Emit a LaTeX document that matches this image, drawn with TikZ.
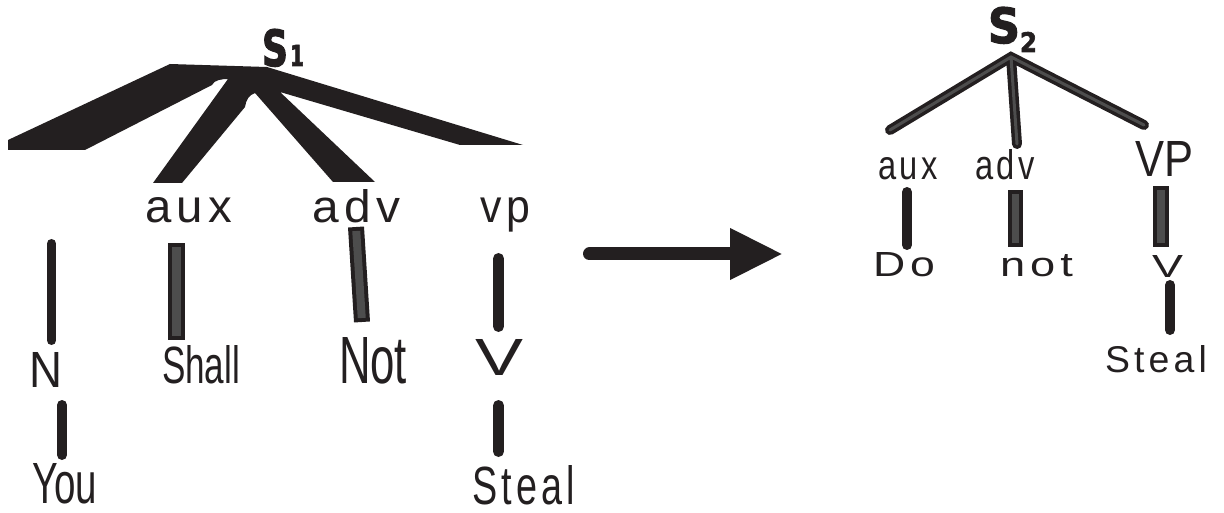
\documentclass[tikz,border=0pt]{standalone}
\usepackage{fontspec}
\usepackage{graphicx}
\usetikzlibrary{arrows.meta}
\newfontfamily\labf[FakeStretch=0.8]{Liberation Sans}
\newfontfamily\labsp[FakeStretch=0.8,LetterSpace=9]{Liberation Sans}
\newfontfamily\sbold[FakeBold=2.5]{DejaVu Sans Bold}
\definecolor{ink}{HTML}{231F20}
\definecolor{barg}{HTML}{4D4D4D}
% fit text #3 into width #1 and height #2 (pt)
\newcommand{\fitbox}[3]{\resizebox{#1pt}{#2pt}{#3}}
\begin{document}
\begin{tikzpicture}[x=1pt,y=-1pt,
  lbl/.style={anchor=base west,inner sep=0pt,outer sep=0pt,text=ink},
  blackbar/.style={draw=ink,line width=#1,line cap=round},
  graybar/.style={draw=ink,line width=4pt,double=barg,double distance=#1,line cap=rect},
  branch/.style={draw=ink,line width=3.5pt,double=barg,double distance=3pt,line cap=round,line join=miter},
  bigarrow/.style={draw=ink,line width=13pt,line cap=round,-{Triangle[length=53pt,width=48pt]}}
]
\useasboundingbox (0,0) rectangle (1224,513);

% ---------- left tree ----------
\node[lbl] (s1) at (262,66) {\fitbox{26}{37}{\sbold S}};
\node[lbl] (s1sub) at (290,66) {\fitbox{14}{21}{\sbold 1}};
\coordinate (apexL) at (250,75);
\fill[ink] (170,64) -- (267,67) -- (523,145) -- (460,145) -- (280,92) -- (375,182) -- (333,182) -- (255,93)
  .. controls (249,95) and (246,100) .. (245,107) -- (182,183) -- (153,183) -- (228,79)
  .. controls (222,79) and (214,80) .. (212,85) -- (85,150) -- (8,150) -- (8,140) -- cycle;

\node[lbl] (aux) at (145,223) {\fitbox{87}{25}{\labsp aux}};
\node[lbl] (adv) at (312,223) {\fitbox{88}{33}{\labsp adv}};
\node[lbl] (vp)  at (480,223) {\fitbox{50}{25}{\labsp vp}};

\node[lbl] (N)     at (30,387)  {\fitbox{33}{35}{\labf N}};
\node[lbl] (You)   at (32,503)  {\fitbox{65}{40}{\labf You}};
\node[lbl] (Shall) at (162,383) {\fitbox{78}{38}{\labf Shall}};
\node[lbl] (Not)   at (339,383) {\fitbox{68}{46}{\labf Not}};
\node[lbl] (V)     at (475,375) {\fitbox{48}{36}{\labf V}};
\node[lbl] (Steal) at (472,504) {\fitbox{103}{39}{\labsp Steal}};

\coordinate (nT) at (51.5,243.5);  \coordinate (nB) at (51.5,340.5);
\coordinate (yT) at (62,405);      \coordinate (yB) at (62,455);
\coordinate (shT) at (176.5,251.5); \coordinate (shB) at (176.5,331.5);
\coordinate (noT) at (356.5,235);  \coordinate (noB) at (361.5,314);
\coordinate (vpT) at (498.5,258.5); \coordinate (vpB) at (498.5,326.5);
\coordinate (vT) at (498.5,405.5); \coordinate (vB) at (498.5,451.5);

\draw[blackbar=9pt] (nT) -- (nB);
\draw[blackbar=10pt] (yT) -- (yB);
\draw[graybar=9pt] (shT) -- (shB);
\draw[graybar=8pt] (noT) -- (noB);
\draw[blackbar=11pt] (vpT) -- (vpB);
\draw[blackbar=11pt] (vT) -- (vB);

% ---------- arrow ----------
\coordinate (arrS) at (589.5,254);
\coordinate (arrE) at (783,254);
\draw[bigarrow] (arrS) -- (arrE);

% ---------- right tree ----------
\node[lbl] (s2) at (988,43) {\fitbox{32}{36}{\sbold S}};
\node[lbl] (s2sub) at (1020,52) {\fitbox{17}{20}{\sbold 2}};
\coordinate (apexR) at (1011,57);
\coordinate (brL) at (890,130);
\coordinate (brM) at (1017,144);
\coordinate (brR) at (1144,125);
\draw[branch] (brL) -- (apexR) -- (brR) (apexR) -- (brM);

\node[lbl] (aux2) at (878,180)  {\fitbox{60}{22}{\labsp aux}};
\node[lbl] (adv2) at (975,180)  {\fitbox{60}{30}{\labsp adv}};
\node[lbl] (VP2)  at (1135,177) {\fitbox{58}{35}{\labf VP}};

\node[lbl] (Do2)    at (873,277)  {\fitbox{62}{24}{\labsp Do}};
\node[lbl] (not2)   at (1000,277) {\fitbox{73}{22}{\labsp not}};
\node[lbl] (V2)     at (1152,277) {\fitbox{31}{22}{\labf V}};
\node[lbl] (Steal2) at (1105,372) {\fitbox{102}{27}{\labsp Steal}};

\coordinate (axT) at (907,192);    \coordinate (axB) at (907,245);
\coordinate (adT) at (1015.5,197.5); \coordinate (adB) at (1015.5,239.5);
\coordinate (vpT2) at (1161,194);  \coordinate (vpB2) at (1161,239);
\coordinate (vT2) at (1170,285);   \coordinate (vB2) at (1170,330);

\draw[blackbar=10pt] (axT) -- (axB);
\draw[graybar=7pt] (adT) -- (adB);
\draw[graybar=8pt] (vpT2) -- (vpB2);
\draw[blackbar=10pt] (vT2) -- (vB2);
\end{tikzpicture}
\end{document}
